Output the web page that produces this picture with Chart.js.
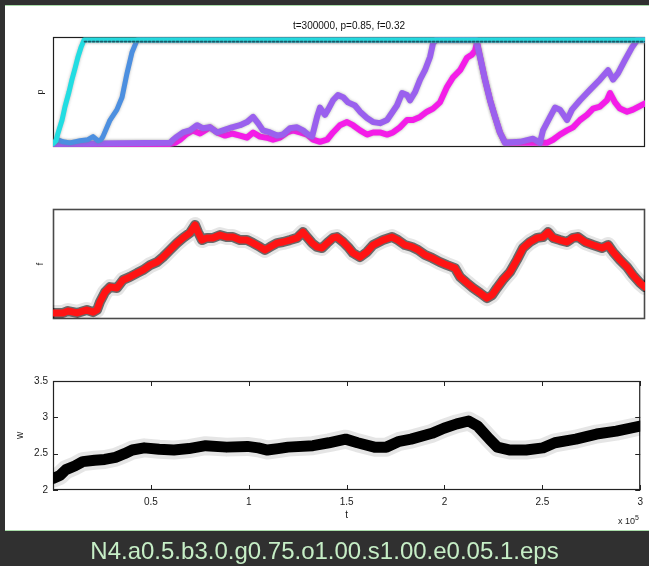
<!DOCTYPE html>
<html>
<head>
<meta charset="utf-8">
<script src="https://cdn.jsdelivr.net/npm/chart.js@4.4.1/dist/chart.umd.min.js"></script>
<style>
  html, body { margin: 0; padding: 0; width: 649px; height: 566px; overflow: hidden; background: #303030; }
  #panel { position: absolute; left: 5px; top: 5px; width: 644px; height: 526px; background: #fff;
           border-top: 1px solid #a9dca9; border-bottom: 1px solid #a9dca9; box-sizing: border-box; }
  canvas { position: absolute; left: 0; top: 0; width: 649px; height: 566px; }
  #exp { position: absolute; left: 618px; top: 516px; font: 9px "Liberation Sans", Arial, sans-serif; color: #222; white-space: nowrap; }
  #exp sup { font-size: 7px; vertical-align: 4px; line-height: 0; }
  #caption { position: absolute; left: 0; top: 537px; width: 649px; text-align: center; line-height: 27px;
             font: 24px "Liberation Sans", Arial, sans-serif; color: #c6eec6; }
</style>
</head>
<body>
<div id="panel"></div>
<canvas id="chartP" width="649" height="566"></canvas>
<canvas id="chartF" width="649" height="566"></canvas>
<canvas id="chartW" width="649" height="566"></canvas>
<div id="exp">x 10<sup>5</sup></div>
<div id="caption">N4.a0.5.b3.0.g0.75.o1.00.s1.00.e0.05.1.eps</div>

<script>
// ---- p: fractions of the four strategies over time ----
const cyanT = [0, 1500, 2500, 4600, 6100, 8100, 9600, 11200, 12700, 14200, 15700, 300000];
const cyanP = [0, 0.03, 0.10, 0.23, 0.36, 0.50, 0.62, 0.73, 0.84, 0.93, 1, 1];

const blueT = [0, 2500, 5100, 8600, 13700, 17700, 20300, 22800, 24300, 25300, 28900, 32400, 35000, 37500, 40000, 42600, 300000];
const blueP = [0.01, 0.04, 0.02, 0.01, 0.03, 0.04, 0.07, 0.03, 0.04, 0.07, 0.23, 0.33, 0.45, 0.68, 0.88, 1, 1];

const purpleT = [0, 59300, 60800, 62800, 65900, 69400, 73000, 76000, 79600, 83100,
  86200, 90700, 94800, 98300, 101400, 103900, 106400, 110000, 113500, 116600,
  120100, 123700, 126700, 129200, 131300, 133800, 135300, 137800, 139400, 141900,
  144400, 147000, 149500, 153000, 155600, 159100, 162200, 165700, 169300, 171800,
  174300, 176900, 179400, 180900, 183500, 186000, 188500, 191100, 192600, 194100,
  214400, 216400, 218900, 221500, 224000, 226500, 229100, 236700, 243300, 246800,
  248300, 251900, 254400, 256900, 260500, 263000, 267100, 272100, 277200, 281300,
  283800, 286300, 289900, 293400, 296000, 300000];
const purpleP = [0, 0.01, 0.04, 0.07, 0.11, 0.13, 0.18, 0.15, 0.16, 0.11,
  0.13, 0.16, 0.18, 0.21, 0.26, 0.20, 0.13, 0.11, 0.08, 0.09,
  0.15, 0.16, 0.13, 0.09, 0.07, 0.26, 0.35, 0.28, 0.33, 0.42,
  0.47, 0.45, 0.40, 0.37, 0.31, 0.25, 0.21, 0.20, 0.23, 0.30,
  0.37, 0.49, 0.47, 0.42, 0.50, 0.62, 0.71, 0.84, 0.97, 1,
  1, 0.84, 0.62, 0.42, 0.26, 0.11, 0.01, 0.02, 0.05, 0.01,
  0.13, 0.26, 0.35, 0.33, 0.23, 0.33, 0.42, 0.52, 0.62, 0.71,
  0.62, 0.68, 0.81, 0.93, 1, 1];

const magentaT = [0, 59300, 61800, 64400, 67400, 70900, 74500, 77000, 79600, 83100,
  87200, 90700, 94800, 98300, 101400, 104900, 108400, 111500, 115000, 118600,
  121600, 125200, 128700, 131800, 135300, 138900, 141900, 145400, 149000, 152000,
  155600, 159100, 162200, 165700, 169300, 172300, 175800, 179400, 182400, 186000,
  189500, 192600, 196100, 199700, 202700, 206300, 209800, 212300, 213900, 214900,
  216400, 218900, 221500, 224000, 226500, 229100, 250300, 253400, 256900, 260500,
  263500, 267100, 270600, 273700, 277200, 280700, 282300, 284800, 287300, 290900,
  293900, 300000];
const magentaP = [0, 0, 0.01, 0.04, 0.09, 0.13, 0.10, 0.13, 0.16, 0.11,
  0.08, 0.10, 0.08, 0.06, 0.11, 0.07, 0.06, 0.04, 0.06, 0.11,
  0.13, 0.11, 0.09, 0.04, 0.02, 0.04, 0.11, 0.18, 0.21, 0.18,
  0.13, 0.09, 0.11, 0.11, 0.09, 0.11, 0.16, 0.23, 0.23, 0.26,
  0.31, 0.34, 0.40, 0.55, 0.64, 0.71, 0.83, 0.86, 0.90, 0.98,
  0.84, 0.62, 0.42, 0.26, 0.11, 0.01, 0.01, 0.04, 0.09, 0.13,
  0.16, 0.23, 0.28, 0.34, 0.36, 0.42, 0.49, 0.40, 0.34, 0.31,
  0.33, 0.39];

// raw samples sitting just under the saturated p = 1 line
const satT = [16000, 300000];
const satP = [0.985, 0.985];

// ---- f over time ----
const fT = [0, 5100, 7600, 12200, 17200, 20300, 22300, 23800, 26400, 28900,
  32400, 35500, 39000, 42600, 45600, 49200, 52700, 55700, 59300, 62800,
  65900, 69400, 72000, 73500, 75500, 78000, 81100, 84600, 88200, 91200,
  94800, 98300, 101400, 104900, 107400, 110000, 113500, 116600, 120100, 123700,
  126700, 128700, 131300, 133800, 136300, 138900, 141900, 143900, 147000, 149500,
  152000, 155600, 159100, 162200, 167200, 171800, 174800, 178400, 181900, 185000,
  188500, 192100, 196100, 199700, 203700, 206300, 209800, 212800, 216400, 219900,
  222500, 225000, 228000, 231600, 235100, 238200, 241700, 245300, 248300, 250900,
  253400, 256900, 260500, 263500, 266100, 269600, 273700, 278200, 281300, 283800,
  287300, 290900, 293900, 297500, 300000];
const fV = [0.222, 0.222, 0.229, 0.222, 0.233, 0.225, 0.233, 0.262, 0.298, 0.316,
  0.313, 0.342, 0.353, 0.367, 0.378, 0.396, 0.407, 0.425, 0.451, 0.476,
  0.495, 0.513, 0.542, 0.516, 0.487, 0.495, 0.495, 0.505, 0.498, 0.498,
  0.487, 0.487, 0.476, 0.462, 0.451, 0.462, 0.476, 0.480, 0.487, 0.495,
  0.516, 0.498, 0.476, 0.462, 0.458, 0.476, 0.495, 0.498, 0.480, 0.462,
  0.440, 0.425, 0.444, 0.469, 0.487, 0.498, 0.487, 0.469, 0.462, 0.451,
  0.433, 0.422, 0.407, 0.396, 0.385, 0.353, 0.331, 0.313, 0.295, 0.276,
  0.287, 0.313, 0.342, 0.371, 0.415, 0.458, 0.480, 0.495, 0.498, 0.516,
  0.495, 0.487, 0.480, 0.495, 0.498, 0.480, 0.469, 0.458, 0.469, 0.444,
  0.415, 0.389, 0.360, 0.331, 0.316];

// ---- w over time ----
const wT = [0, 3500, 6600, 11100, 15200, 21300, 26400, 31900, 36500, 40500,
  46600, 54200, 61800, 69400, 78000, 88700, 99300, 104900, 109500, 115000,
  120100, 132800, 140900, 149500, 155600, 164200, 170300, 176900, 182900, 193600,
  199700, 206300, 212300, 216900, 223000, 227000, 233600, 241700, 250300, 256400,
  267100, 277700, 287800, 300000];
const wV = [2.16, 2.20, 2.28, 2.33, 2.39, 2.41, 2.42, 2.45, 2.50, 2.55,
  2.58, 2.56, 2.55, 2.57, 2.61, 2.59, 2.60, 2.58, 2.55, 2.57,
  2.59, 2.61, 2.65, 2.70, 2.65, 2.59, 2.59, 2.67, 2.70, 2.78,
  2.85, 2.91, 2.95, 2.88, 2.70, 2.59, 2.55, 2.55, 2.58, 2.65,
  2.70, 2.77, 2.81, 2.88];

// axis ticks of the w panel
const tTicks = [0, 50000, 100000, 150000, 200000, 250000, 300000];
const wTicks = [2, 2.5, 3, 3.5];

const T_MAX = 300000;
const titleText = 't=300000, p=0.85, f=0.32';

const pairs = (ts, vs) => ts.map((t, i) => ({ x: t, y: vs[i] }));

Chart.defaults.font.family = '"Liberation Sans", Arial, Helvetica, sans-serif';
Chart.defaults.color = '#1a1a1a';

// plot box drawn under the curves
const boxFrame = {
  id: 'boxFrame',
  beforeDatasetsDraw(chart, args, opts) {
    const { ctx, chartArea: a } = chart;
    ctx.save();
    ctx.strokeStyle = opts.color || '#222';
    ctx.lineWidth = opts.width || 1;
    ctx.strokeRect(a.left + 0.5, a.top + 0.5, a.width - 1, a.height - 1);
    ctx.restore();
  }
};

// soft grey fringe of the noisy trajectories
const fringe = {
  id: 'fringe',
  beforeDatasetsDraw(chart, args, opts) {
    const ctx = chart.ctx;
    ctx.save();
    ctx.shadowColor = opts.color || 'rgba(110,110,110,0.5)';
    ctx.shadowBlur = opts.blur || 3;
  },
  afterDatasetsDraw(chart) { chart.ctx.restore(); }
};

// MATLAB-style inward tick marks on all four sides
const inwardTicks = {
  id: 'inwardTicks',
  afterDraw(chart) {
    const { ctx, chartArea: a, scales: { x, y } } = chart;
    const L = 5;
    ctx.save();
    ctx.strokeStyle = '#222';
    ctx.lineWidth = 1;
    ctx.beginPath();
    x.ticks.forEach(t => {
      const px = Math.round(x.getPixelForValue(t.value)) + 0.5;
      ctx.moveTo(px, a.bottom); ctx.lineTo(px, a.bottom - L);
      ctx.moveTo(px, a.top); ctx.lineTo(px, a.top + L);
    });
    y.ticks.forEach(t => {
      const py = Math.round(y.getPixelForValue(t.value)) + 0.5;
      ctx.moveTo(a.left, py); ctx.lineTo(a.left + L, py);
      ctx.moveTo(a.right, py); ctx.lineTo(a.right - L, py);
    });
    ctx.stroke();
    ctx.restore();
  }
};

const base = {
  responsive: false,
  animation: false,
  devicePixelRatio: 1,
  events: [],
  elements: {
    point: { radius: 0 },
    line: { tension: 0, borderCapStyle: 'round', borderJoinStyle: 'round', fill: false }
  }
};

const hiddenX = { type: 'linear', min: 0, max: T_MAX, display: false };
const fixWidth = s => { s.width = 53; };

// ---------- p panel ----------
new Chart(document.getElementById('chartP'), {
  type: 'line',
  data: {
    datasets: [
      { data: pairs(satT, satP), borderColor: 'rgba(20,50,70,0.75)', borderWidth: 1.6, borderDash: [2, 2], order: 0 },
      { data: pairs(cyanT, cyanP), borderColor: '#22dde2', borderWidth: 5, order: 1 },
      { data: pairs(blueT, blueP), borderColor: '#4c8fe0', borderWidth: 5, order: 2 },
      { data: pairs(purpleT, purpleP), borderColor: '#9a60ee', borderWidth: 6, order: 3 },
      { data: pairs(magentaT, magentaP), borderColor: '#f41ce8', borderWidth: 6, order: 4 }
    ]
  },
  options: {
    ...base,
    layout: { padding: { left: 0, right: 4, top: 0, bottom: 419 } },
    plugins: {
      legend: { display: false },
      tooltip: { enabled: false },
      title: { display: true, text: titleText, fullSize: false, color: '#111',
               font: { size: 10, weight: 'normal' }, padding: { top: 20, bottom: 5 } },
      boxFrame: { color: '#1e1e1e', width: 1.2 },
      fringe: { color: 'rgba(120,120,120,0.55)', blur: 3 }
    },
    scales: {
      x: hiddenX,
      y: { min: -0.03, max: 1.03, ticks: { display: false }, grid: { display: false },
           border: { display: false },
           title: { display: true, text: 'p', font: { size: 9 }, padding: { top: 35, bottom: 0 } },
           afterFit: fixWidth }
    }
  },
  plugins: [boxFrame, fringe]
});

// ---------- f panel ----------
new Chart(document.getElementById('chartF'), {
  type: 'line',
  data: {
    datasets: [
      { data: pairs(fT, fV), borderColor: '#ff1414', borderWidth: 7, order: 0 },
      { data: pairs(fT, fV), borderColor: 'rgba(0,0,0,0.55)', borderWidth: 10, order: 1 },
      { data: pairs(fT, fV), borderColor: 'rgba(0,0,0,0.1)', borderWidth: 16, order: 2 }
    ]
  },
  options: {
    ...base,
    layout: { padding: { left: 0, right: 4, top: 209, bottom: 247 } },
    plugins: {
      legend: { display: false },
      tooltip: { enabled: false },
      boxFrame: { color: '#4a4a4a', width: 1.6 }
    },
    scales: {
      x: hiddenX,
      y: { min: 0.2, max: 0.6, ticks: { display: false }, grid: { display: false },
           border: { display: false },
           title: { display: true, text: 'f', font: { size: 9 }, padding: { top: 35, bottom: 0 } },
           afterFit: fixWidth }
    }
  },
  plugins: [boxFrame]
});

// ---------- w panel ----------
new Chart(document.getElementById('chartW'), {
  type: 'line',
  data: {
    datasets: [
      { data: pairs(wT, wV), borderColor: '#000', borderWidth: 11, order: 0 },
      { data: pairs(wT, wV), borderColor: 'rgba(0,0,0,0.1)', borderWidth: 19, order: 1 }
    ]
  },
  options: {
    ...base,
    layout: { padding: { left: 0, right: 4, top: 381, bottom: 36 } },
    plugins: {
      legend: { display: false },
      tooltip: { enabled: false },
      boxFrame: { color: '#222', width: 1.2 }
    },
    scales: {
      x: { type: 'linear', min: 0, max: T_MAX,
           afterBuildTicks: s => { s.ticks = tTicks.map(v => ({ value: v })); },
           ticks: { autoSkip: false, maxRotation: 0, padding: 6, color: '#1a1a1a', font: { size: 10 },
                    callback: v => (v === 0 ? '' : String(v / 1e5)) },
           grid: { display: false, drawTicks: false }, border: { display: false },
           title: { display: true, text: 't', font: { size: 10 }, padding: { top: 0, bottom: 9 } },
           afterFit: s => { s.height = 40; } },
      y: { min: 2, max: 3.5,
           afterBuildTicks: s => { s.ticks = wTicks.map(v => ({ value: v })); },
           ticks: { padding: 5, color: '#1a1a1a', font: { size: 10 }, callback: v => String(v) },
           grid: { display: false, drawTicks: false }, border: { display: false },
           title: { display: true, text: 'w', font: { size: 10 }, padding: { top: 14, bottom: 0 } },
           afterFit: fixWidth }
    }
  },
  plugins: [boxFrame, inwardTicks]
});
</script>
</body>
</html>
